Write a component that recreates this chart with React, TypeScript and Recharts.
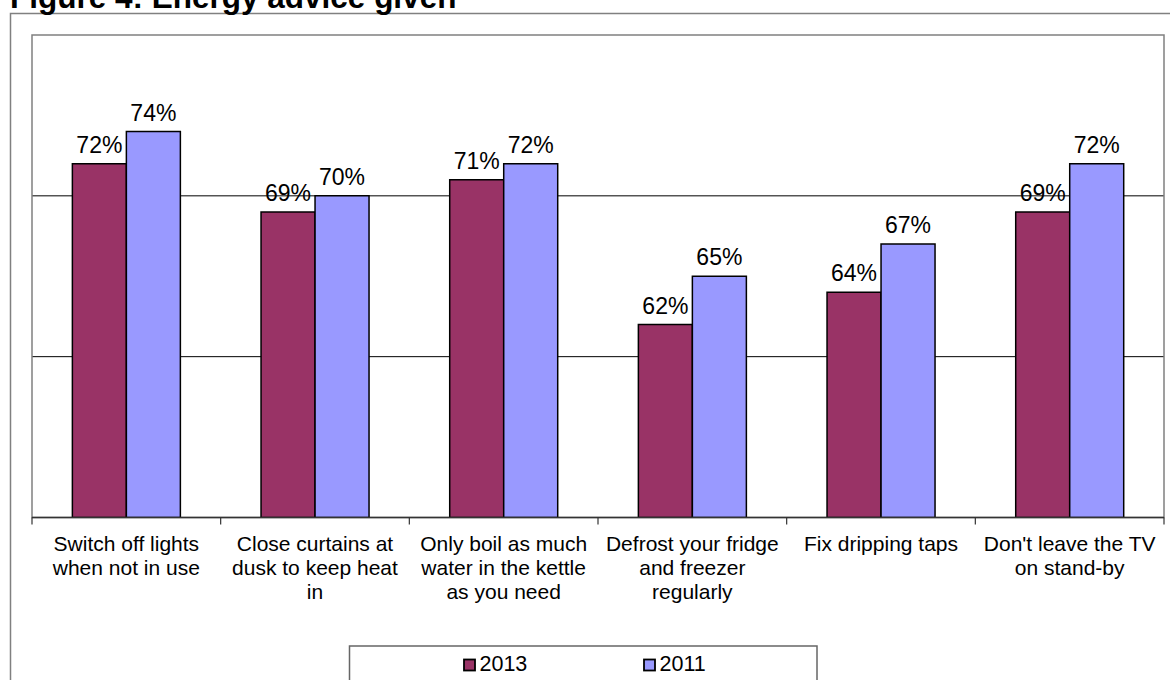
import React from 'react';
import { BarChart, Bar, XAxis, YAxis, CartesianGrid, LabelList, ReferenceArea } from 'recharts';

const titleText = 'Figure 4: Energy advice given';
const categories = [
  'Switch off lights when not in use',
  'Close curtains at dusk to keep heat in',
  'Only boil as much water in the kettle as you need',
  'Defrost your fridge and freezer regularly',
  'Fix dripping taps',
  "Don't leave the TV on stand-by",
];
const categoryLines = [
  ['Switch off lights', 'when not in use'],
  ['Close curtains at', 'dusk to keep heat', 'in'],
  ['Only boil as much', 'water in the kettle', 'as you need'],
  ['Defrost your fridge', 'and freezer', 'regularly'],
  ['Fix dripping taps'],
  ["Don't leave the TV", 'on stand-by'],
];
const values2013 = [72, 69, 71, 62, 64, 69];
const values2011 = [74, 70, 72, 65, 67, 72];
const seriesNames = ['2013', '2011'];
const seriesKeys = ['y2013', 'y2011'];
const seriesColors = ['#993366', '#9999FF'];
const yTicks = [50, 60, 70, 80];
const gridValues = [60, 70];

const data = categories.map((c, i) => ({
  category: c,
  y2013: values2013[i],
  y2011: values2011[i],
}));

const FONT = '"Liberation Sans", Arial, Helvetica, sans-serif';

const CategoryTick = (props: any) => {
  const { x, y, payload, index, visibleTicksCount } = props;
  const half = payload && payload.offset ? payload.offset : 1132 / 12;
  const lines = categoryLines[index] || [String(payload.value)];
  const last = index === (visibleTicksCount || categories.length) - 1;
  return (
    <g>
      <line x1={x - half} y1={y} x2={x - half} y2={y + 7} stroke="#333" strokeWidth={1.2} />
      {last && <line x1={x + half} y1={y} x2={x + half} y2={y + 7} stroke="#333" strokeWidth={1.2} />}
      <text x={x} y={y} textAnchor="middle" fill="#000" fontSize={21} fontFamily={FONT}>
        {lines.map((l: string, i: number) => (
          <tspan key={i} x={x} y={y + 33 + i * 24}>
            {l}
          </tspan>
        ))}
      </text>
    </g>
  );
};

export default function App() {
  return (
    <div
      style={{
        position: 'absolute',
        left: 0,
        top: 0,
        width: 1170,
        height: 680,
        overflow: 'hidden',
        background: '#fff',
        fontFamily: FONT,
      }}
    >
      <svg width={1170} height={680} style={{ position: 'absolute', left: 0, top: 0 }}>
        <rect x={10.5} y={13.5} width={1300} height={800} fill="none" stroke="#808080" strokeWidth={1.5} />
        <text x={10} y={7.5} fontSize={31.5} fontWeight="bold" fill="#000" fontFamily={FONT}>
          {titleText}
        </text>
      </svg>
      <div style={{ position: 'absolute', left: 0, top: 0 }}>
        <BarChart
          width={1170}
          height={680}
          data={data}
          margin={{ top: 35, left: 32, right: 6, bottom: 62.5 }}
          barCategoryGap="21.4%"
          barGap={0}
        >
          <CartesianGrid vertical={false} horizontalValues={gridValues} stroke="#000" strokeWidth={1} />
          <YAxis hide domain={[50, 80]} ticks={yTicks} allowDataOverflow />
          <XAxis
            dataKey="category"
            height={100}
            interval={0}
            tickSize={0}
            tickMargin={0}
            tickLine={false}
            axisLine={{ stroke: '#333', strokeWidth: 1.5 }}
            tick={<CategoryTick />}
          />
          <ReferenceArea y1={50} y2={80} fill="none" stroke="#808080" strokeWidth={1.5} ifOverflow="visible" />
          {seriesKeys.map((k, i) => (
            <Bar
              key={k}
              dataKey={k}
              name={seriesNames[i]}
              fill={seriesColors[i]}
              stroke="#000"
              strokeWidth={1.5}
              isAnimationActive={false}
            >
              <LabelList
                dataKey={k}
                position="top"
                offset={11}
                formatter={(v: any) => `${v}%`}
                style={{ fontSize: 23, fill: '#000', fontFamily: FONT }}
              />
            </Bar>
          ))}
        </BarChart>
      </div>
      <svg width={1170} height={680} style={{ position: 'absolute', left: 0, top: 0, pointerEvents: 'none' }}>
        <rect x={349.5} y={646} width={467.5} height={60} fill="#fff" stroke="#666" strokeWidth={1.5} />
        {seriesNames.map((n, i) => (
          <g key={n}>
            <rect x={464 + i * 180} y={659.5} width={11} height={11} fill={seriesColors[i]} stroke="#000" strokeWidth={1.8} />
            <text x={479.5 + i * 180} y={670.5} fontSize={21.5} fill="#000" fontFamily={FONT}>
              {n}
            </text>
          </g>
        ))}
      </svg>
    </div>
  );
}
